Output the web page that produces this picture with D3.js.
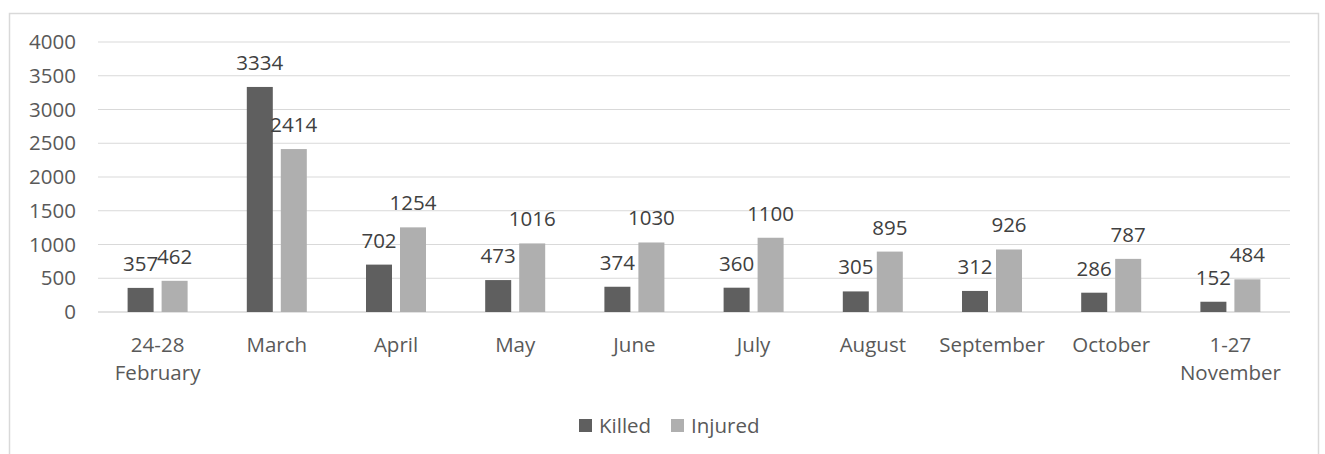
<!DOCTYPE html>
<html>
<head>
<meta charset="utf-8">
<script src="https://cdn.jsdelivr.net/npm/d3@7"></script>
<style>
  body { margin: 0; background: #fff; }
  svg { font-family: "Open Sans", sans-serif; }
</style>
</head>
<body>
<div id="container"></div>
<script>
  var categories = [["24-28", "February"], ["March"], ["April"], ["May"], ["June"], ["July"],
    ["August"], ["September"], ["October"], ["1-27", "November"]];
  var killed = [357, 3334, 702, 473, 374, 360, 305, 312, 286, 152];
  var injured = [462, 2414, 1254, 1016, 1030, 1100, 895, 926, 787, 484];
  var seriesNames = ["Killed", "Injured"];
  var seriesColors = ["#5f5f5f", "#afafaf"];
  var yTicks = [0, 500, 1000, 1500, 2000, 2500, 3000, 3500, 4000];

  var width = 1325, height = 454;
  var plotLeft = 98, plotRight = 1290, plotTop = 42, plotBottom = 312;
  var textColor = "#595959";
  var fontSize = 20.5;

  var svg = d3.select("#container").append("svg")
    .attr("width", width)
    .attr("height", height);

  // chart frame (bottom edge falls outside the picture)
  svg.append("rect")
    .attr("x", 9.5).attr("y", 13.5)
    .attr("width", 1309).attr("height", 460)
    .attr("fill", "none")
    .attr("stroke", "#d9d9d9")
    .attr("stroke-width", 1.5);

  var x = d3.scaleBand()
    .domain(d3.range(categories.length))
    .range([plotLeft, plotRight]);

  var y = d3.scaleLinear()
    .domain([0, 4000])
    .range([plotBottom, plotTop]);

  // gridlines
  svg.append("g").selectAll("line")
    .data(yTicks)
    .enter().append("line")
    .attr("x1", plotLeft).attr("x2", plotRight)
    .attr("y1", function(d) { return y(d); })
    .attr("y2", function(d) { return y(d); })
    .attr("stroke", "#d9d9d9")
    .attr("stroke-width", function(d) { return d == 0 ? 1.5 : 1.2; });

  // y axis labels
  var yAxis = d3.axisLeft(y).tickValues(yTicks).tickFormat(d3.format("d"))
    .tickSize(0).tickPadding(22);
  var yg = svg.append("g")
    .attr("transform", "translate(" + plotLeft + ",0)")
    .call(yAxis);
  yg.select(".domain").remove();
  yg.selectAll("text")
    .attr("fill", textColor)
    .attr("font-size", fontSize)
    .attr("font-family", "Open Sans, sans-serif");

  var barW = 26, gap = 8;
  var series = [killed, injured];

  series.forEach(function(values, s) {
    var offset = s == 0 ? -(gap / 2 + barW) : gap / 2;
    var g = svg.append("g");
    g.selectAll("rect")
      .data(values)
      .enter().append("rect")
      .attr("x", function(d, i) { return x(i) + x.bandwidth() / 2 + offset; })
      .attr("y", function(d) { return y(d); })
      .attr("width", barW)
      .attr("height", function(d) { return y(0) - y(d); })
      .attr("fill", seriesColors[s]);

    g.selectAll("text")
      .data(values)
      .enter().append("text")
      .attr("x", function(d, i) { return x(i) + x.bandwidth() / 2 + offset + barW / 2; })
      .attr("y", function(d) { return y(d) - 17; })
      .attr("text-anchor", "middle")
      .attr("font-size", fontSize)
      .attr("fill", "#404040")
      .text(function(d) { return d; });
  });

  // category labels
  var cat = svg.append("g").selectAll("text")
    .data(categories)
    .enter().append("text")
    .attr("text-anchor", "middle")
    .attr("font-size", fontSize)
    .attr("fill", textColor)
    .attr("transform", function(d, i) {
      return "translate(" + (x(i) + x.bandwidth() / 2) + ",352)";
    });
  cat.selectAll("tspan")
    .data(function(d) { return d; })
    .enter().append("tspan")
    .attr("x", 0)
    .attr("y", function(d, i) { return i * 28; })
    .text(function(d) { return d; });

  // legend
  var legendX = [579, 671];
  var legend = svg.append("g").selectAll("g")
    .data(seriesNames)
    .enter().append("g")
    .attr("transform", function(d, i) { return "translate(" + legendX[i] + ",419)"; });
  legend.append("rect")
    .attr("width", 13).attr("height", 13)
    .attr("fill", function(d, i) { return seriesColors[i]; });
  legend.append("text")
    .attr("x", 20).attr("y", 13.5)
    .attr("font-size", fontSize)
    .attr("fill", textColor)
    .text(function(d) { return d; });
</script>
</body>
</html>
